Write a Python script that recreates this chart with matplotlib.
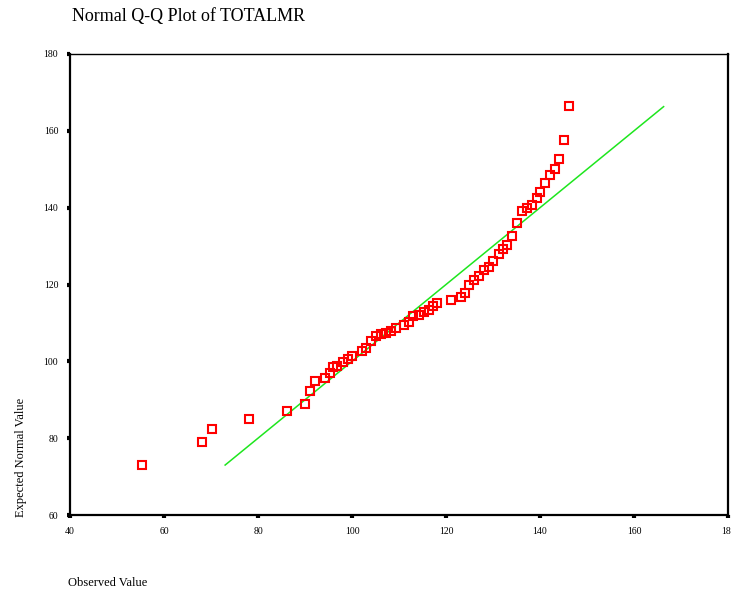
import matplotlib
matplotlib.use("Agg")
import matplotlib.pyplot as plt

# Observed values and their expected normal quantiles
observed = [55.3, 68.1, 70.2, 78.1, 86.2, 90.1, 91.1, 92.1, 94.3, 95.3,
            96.0, 96.9, 98.0, 99.1, 100.1, 102.2, 102.9, 104.0, 105.0, 106.1,
            107.2, 108.3, 109.3, 111.1, 112.1, 113.0, 114.3, 115.3, 116.3, 117.2,
            118.0, 121.1, 123.2, 124.1, 124.9, 125.9, 127.0, 128.0, 129.1, 130.1,
            131.2, 132.2, 132.9, 134.0, 135.2, 136.2, 137.2, 138.3, 139.3, 139.9,
            141.1, 142.1, 143.2, 144.1, 145.2, 146.2]
expected = [72.9, 79.1, 82.5, 85.1, 87.2, 89.0, 92.3, 95.0, 95.7, 97.0,
            98.5, 98.8, 99.8, 100.5, 101.3, 102.7, 103.5, 105.2, 106.5, 107.0,
            107.5, 107.9, 108.6, 109.5, 110.3, 111.7, 112.1, 112.9, 113.3, 114.3,
            115.2, 115.9, 116.7, 117.8, 119.8, 121.3, 122.3, 123.7, 124.5, 126.1,
            127.9, 129.3, 130.4, 132.6, 136.0, 139.1, 139.9, 140.8, 142.4, 144.2,
            146.3, 148.4, 150.1, 152.7, 157.7, 166.4]

# Reference line y = x
ref_line = [73.0, 166.3]

x_ticks = [40, 60, 80, 100, 120, 140, 160, 180]
y_ticks = [60, 80, 100, 120, 140, 160, 180]

plt.rcParams["font.family"] = ["Liberation Serif", "DejaVu Serif"]

fig = plt.figure(figsize=(7.31, 5.96), dpi=100)
ax = fig.add_axes([0.0958, 0.1359, 0.9001, 0.7735])

ax.plot(ref_line, ref_line, color="#1ee61e", linewidth=1.1, zorder=2)
ax.plot(observed, expected, linestyle="none", marker="s", markersize=6.0,
        markerfacecolor="none", markeredgecolor="#ff0000",
        markeredgewidth=1.5, zorder=3)

ax.set_xlim(40, 180)
ax.set_ylim(60, 180)
ax.set_xticks(x_ticks)
ax.set_yticks(y_ticks)
ax.tick_params(direction="out", length=2.5, width=3, color="black",
               labelsize=7, pad=6)

for side in ["left", "bottom", "right"]:
    ax.spines[side].set_linewidth(1.6)
ax.spines["top"].set_linewidth(1.0)

fig.text(0.0985, 0.972, "Normal Q-Q Plot of TOTALMR", fontsize=13,
         ha="left", va="center")
fig.text(0.093, 0.022, "Observed Value", fontsize=9, ha="left", va="center")
fig.text(0.029, 0.133, "Expected Normal Value", fontsize=9, rotation=90,
         ha="center", va="bottom")

fig.savefig("out.png", dpi=100)
